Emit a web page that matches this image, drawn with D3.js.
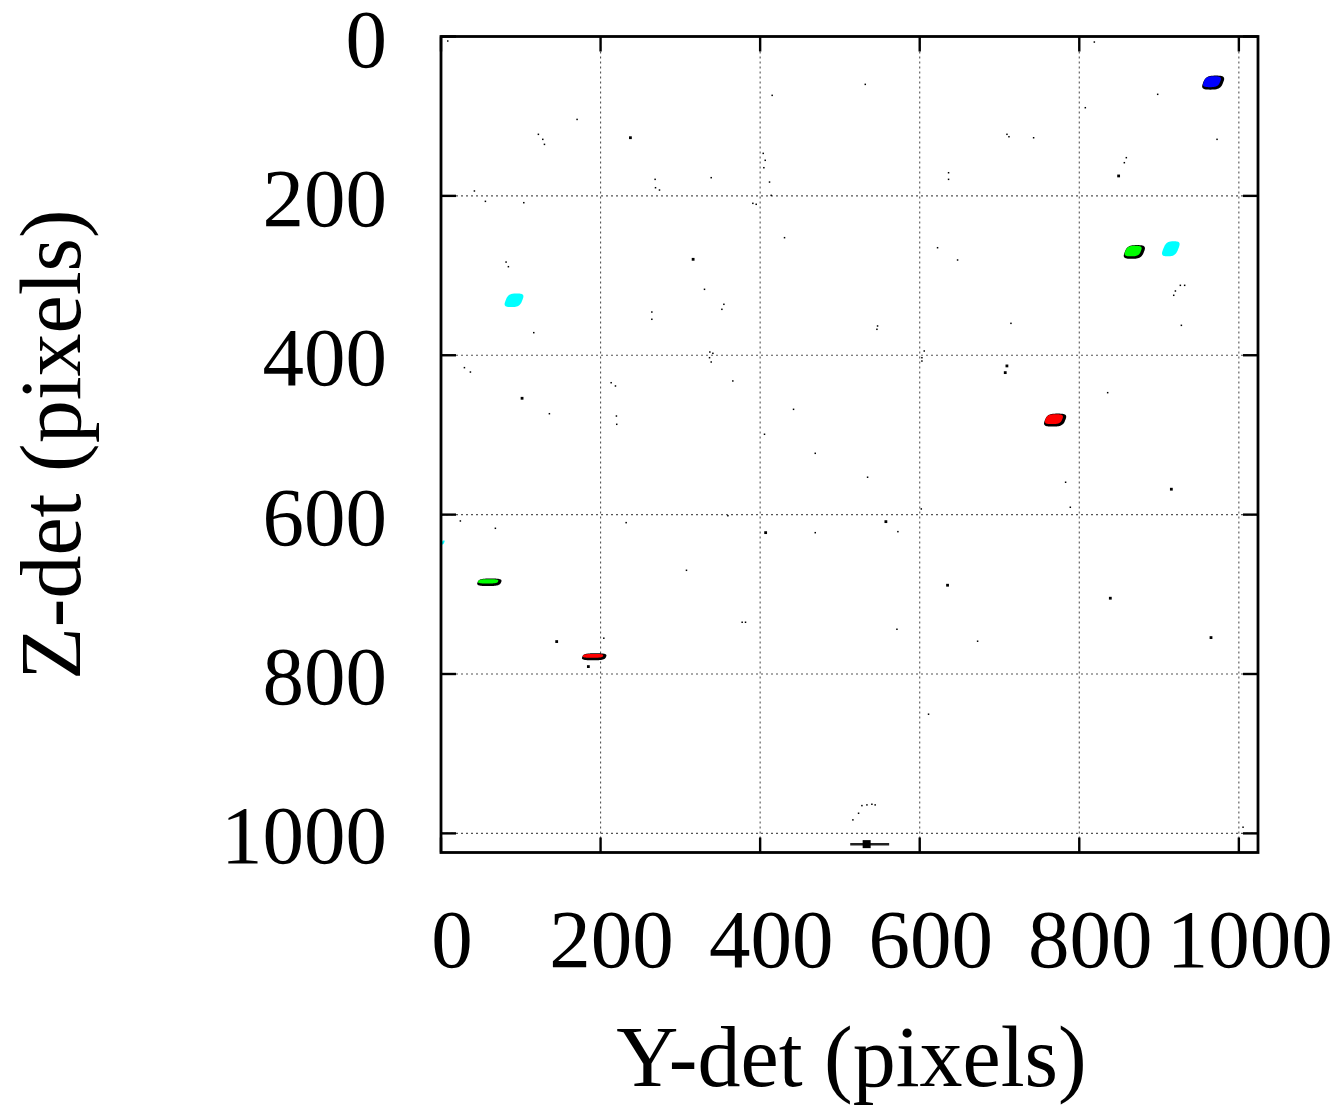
<!DOCTYPE html>
<html><head><meta charset="utf-8">
<script src="https://cdn.jsdelivr.net/npm/d3@7"></script>
<style>body{margin:0;background:#fff}</style>
</head><body>
<svg id="c" width="1340" height="1111"></svg>
<script>
// ---- data ----
const xTicks = [0, 200, 400, 600, 800, 1000];
const yTicks = [0, 200, 400, 600, 800, 1000];
const xTitle = "Y-det (pixels)";
const yTitle = "Z-det (pixels)";

// diffraction spots (detector Y, detector Z, extent in Y, extent in Z)
const spotY = [966.8, 868.0, 914.7, 768.7, 91.5, 59.6, 191.0, 2.5];
const spotZ = [57.5, 270.0, 266.4, 481.0, 331.0, 684.5, 778.0, 635.0];
const spotW = [30.0, 28.8, 26.3, 30.0, 27.6, 31.3, 31.3, 3.8];
const spotH = [17.6, 17.2, 18.8, 16.3, 17.0, 9.4, 8.8, 5.0];
const spotColor = ["blue", "green", "cyan", "red", "cyan", "green", "red", "cyan"];
const spotOutlined = [true, true, false, true, false, true, true, false];

// isolated noise pixels
const smallDots = [
  [8.4,5.6],[170.5,104],[122,122.7],[127.5,129],[129.6,135.3],[41.8,193.8],[55.6,206.8],[103.7,208.5],
  [268.3,179.2],[268.8,189.7],[273.8,192.6],[338.6,177.1],[415,73.8],[403.8,146.6],[406.3,155.3],
  [404.6,164.6],[411.7,182.6],[413.8,199.3],[390.8,209.3],[395,210.5],[430.5,252.4],[81.5,283],
  [84.4,288.8],[330.2,317.2],[354.5,336],[352,342.3],[264.2,345.7],[264.2,354.8],[116.2,371.6],
  [336.9,395.9],[340.7,397.5],[336.5,403],[338.6,408.4],[29.3,415.5],[36.8,421],[135.8,473.3],
  [213.2,434.4],[218.6,438.5],[365.7,432.2],[441.8,467.8],[219.8,476.2],[220.2,486.6],[405.4,499.1],
  [531.7,60],[818.8,6.9],[898.2,72.5],[807.5,89.3],[972.6,129],[709.3,122.7],[711.8,125.7],[742.7,127],
  [636.1,170.9],[636.1,179.2],[858.9,152],[856.4,158.3],[622.3,265],[647.4,280.4],[926.6,312.2],
  [932,312.2],[920.4,319.3],[918.3,324.7],[547.1,363.2],[546.3,367.4],[714.3,359.9],[927.9,362.4],
  [605.6,394.6],[602.7,403],[602.7,407.2],[835.5,446.9],
  [469,523],[24.2,607.9],[68.1,617.1],[232,610],[359.5,601.3],[469,622.6],[307.6,669.8],[377.4,735],
  [381.6,735],[204,755],[534.6,553],[782.8,559.3],[788.7,590.7],[601.9,592.8],[572.6,621.3],
  [571.4,743.8],[672.5,758.8],[611,850.4],[527.5,965.1],[533.8,964.2],[540,963.4],[544.1,964.2],
  [523.3,974.7],[516.2,983],[1005.2,992.2]
];
const largeDots = [
  [237.4,127],[316,279.6],[101.6,454],[849.3,175],[709.3,413.4],[707.2,421.8],[145,759.3],[184.7,790.7],
  [915.4,568.1],[557.6,608.8],[634.9,688.6],[838.9,704.9],[965.1,754.3],[406.9,622.6]
];

// direct-beam marker with horizontal bar
const beamY = 533.5, beamZ = 1013.5, beamFrom = 512.9, beamTo = 561.7;

// ---- drawing ----
const colorMap = {blue:"#0000ff", green:"#00ff00", cyan:"#00ffff", red:"#ff0000"};
const svg = d3.select("#c");
const L = 441, R = 1258, T = 36.5, B = 852.5;
const x = d3.scaleLinear().domain([0, 1024]).range([L, R]);
const y = d3.scaleLinear().domain([0, 1024]).range([T, B]);
const font = "'Liberation Serif','Times New Roman',serif";
const tickFont = 83, titleFont = 86;

// grid
const grid = svg.append("g");
grid.selectAll("line.gx").data(xTicks).join("line")
  .attr("x1", d => x(d)).attr("x2", d => x(d)).attr("y1", T).attr("y2", B)
  .attr("stroke", "#555").attr("stroke-width", 1.1).attr("stroke-dasharray", "2,3");
grid.selectAll("line.gy").data(yTicks).join("line")
  .attr("y1", d => y(d)).attr("y2", d => y(d)).attr("x1", L).attr("x2", R)
  .attr("stroke", "#555").attr("stroke-width", 1.1).attr("stroke-dasharray", "2,3");

// spots: skewed super-ellipses (rounded parallelograms)
function spotPath(cx, cy, rx, ry, k) {
  const n = 3.2;
  const pts = d3.range(0, 96).map(i => {
    const t = i / 96 * 2 * Math.PI;
    const c = Math.cos(t), s = Math.sin(t);
    const ex = Math.sign(c) * Math.pow(Math.abs(c), 2 / n);
    const ey = Math.sign(s) * Math.pow(Math.abs(s), 2 / n);
    const py = cy + ry * ey;
    const px = cx + rx * ex + k * (cy - py);
    return [px, py];
  });
  return d3.line().curve(d3.curveLinearClosed)(pts);
}
const spots = svg.append("g");
spotY.forEach((sy, i) => {
  const cx = x(sy), cy = y(spotZ[i]);
  const wpx = x(spotW[i]) - x(0), hpx = y(spotH[i]) - y(0);
  const k = 0.4;
  const rx = Math.max(1.2, wpx / 2 - k * hpx / 2);
  const ry = Math.max(1.2, hpx / 2);
  if (spotOutlined[i]) {
    spots.append("path").attr("d", spotPath(cx + 0.8, cy + 0.3, rx + 0.8, ry, k)).attr("fill", "#000");
    spots.append("path").attr("d", spotPath(cx - 0.4, cy - 0.6, rx - 1, ry - 1.6, k)).attr("fill", colorMap[spotColor[i]]);
  } else {
    spots.append("path").attr("d", spotPath(cx, cy, rx, ry, k)).attr("fill", colorMap[spotColor[i]]);
  }
});

// noise pixels
svg.append("g").selectAll("rect").data(smallDots).join("rect")
  .attr("x", d => x(d[0]) - 0.7).attr("y", d => y(d[1]) - 0.7)
  .attr("width", 1.5).attr("height", 1.5).attr("fill", "#000");
svg.append("g").selectAll("rect").data(largeDots).join("rect")
  .attr("x", d => x(d[0]) - 1.4).attr("y", d => y(d[1]) - 1.4)
  .attr("width", 2.8).attr("height", 2.8).attr("fill", "#000");

// beam marker
svg.append("line").attr("x1", x(beamFrom)).attr("x2", x(beamTo)).attr("y1", y(beamZ)).attr("y2", y(beamZ))
  .attr("stroke", "#222").attr("stroke-width", 2.5);
svg.append("rect").attr("x", x(beamY) - 4).attr("y", y(beamZ) - 4).attr("width", 8).attr("height", 8).attr("fill", "#000");

// ticks (inward, all sides)
const tk = svg.append("g").attr("stroke", "#000").attr("stroke-width", 2.4);
const tl = 15;
xTicks.forEach(d => {
  tk.append("line").attr("x1", x(d)).attr("x2", x(d)).attr("y1", B).attr("y2", B - tl);
  tk.append("line").attr("x1", x(d)).attr("x2", x(d)).attr("y1", T).attr("y2", T + tl);
});
yTicks.forEach(d => {
  tk.append("line").attr("y1", y(d)).attr("y2", y(d)).attr("x1", L).attr("x2", L + tl);
  tk.append("line").attr("y1", y(d)).attr("y2", y(d)).attr("x1", R).attr("x2", R - tl);
});

// frame
svg.append("rect").attr("x", L).attr("y", T).attr("width", R - L).attr("height", B - T)
  .attr("fill", "none").attr("stroke", "#000").attr("stroke-width", 2.8);

// tick labels
svg.append("g").selectAll("text").data(xTicks).join("text")
  .attr("x", d => x(d) + 11).attr("y", 967).attr("text-anchor", "middle")
  .attr("font-family", font).attr("font-size", tickFont).text(d => d);
svg.append("g").selectAll("text").data(yTicks).join("text")
  .attr("x", 387).attr("y", d => y(d) + 30).attr("text-anchor", "end")
  .attr("font-family", font).attr("font-size", tickFont).text(d => d);

// axis titles
svg.append("text").attr("x", (L + R) / 2 + 2).attr("y", 1086).attr("text-anchor", "middle")
  .attr("font-family", font).attr("font-size", titleFont).text(xTitle);
svg.append("text").attr("transform", `translate(80,${(T + B) / 2}) rotate(-90)`).attr("text-anchor", "middle")
  .attr("font-family", font).attr("font-size", titleFont).text(yTitle);
</script>
</body></html>
